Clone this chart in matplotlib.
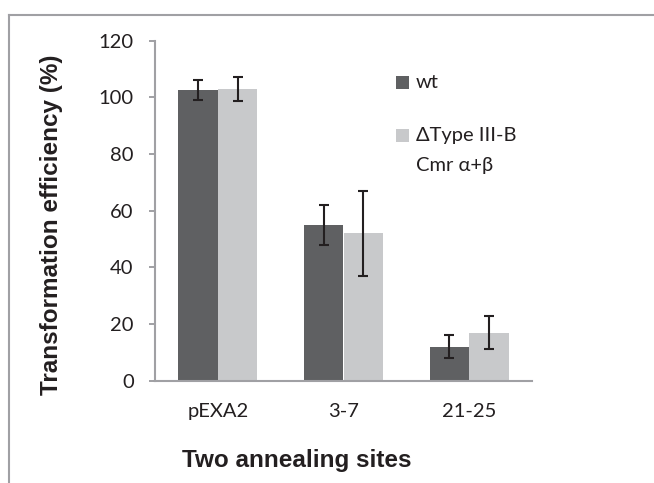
import matplotlib
matplotlib.use("Agg")
import matplotlib.pyplot as plt
import numpy as np
from matplotlib.lines import Line2D
from matplotlib.patches import Rectangle

categories = ["pEXA2", "3-7", "21-25"]
wt_values = [102.5, 55.0, 12.0]
wt_errors = [3.5, 7.1, 4.2]
mut_values = [103.0, 52.0, 16.9]
mut_errors = [4.2, 15.0, 5.8]
series_labels = ["wt", "\u0394Type III-B\nCmr \u03b1+\u03b2"]
yticks = [0, 20, 40, 60, 80, 100, 120]

DARK = "#5f6062"
LIGHT = "#c8c9cb"
AXC = "#a0a0a4"
TXT = "#231f20"
NUM_FONT = ["Lato", "Open Sans", "DejaVu Sans"]
BOLD_FONT = ["Liberation Sans", "DejaVu Sans"]

W, H = 654, 483
fig = plt.figure(figsize=(W / 100, H / 100), dpi=100)
ax = fig.add_axes([155 / W, 102.5 / H, 377 / W, 339.8 / H])

x = np.arange(len(categories))
bw = 0.315
err_kw = dict(ecolor=TXT, elinewidth=1.5, capsize=3.6, capthick=1.5)
ax.bar(x - bw / 2, wt_values, bw, color=DARK, yerr=wt_errors, error_kw=err_kw, zorder=2)
ax.bar(x + bw / 2, mut_values, bw, color=LIGHT, yerr=mut_errors, error_kw=err_kw, zorder=2)

ax.set_xlim(-0.5, len(categories) - 0.5)
ax.set_ylim(0, 120)
ax.set_yticks(yticks)
ax.set_yticklabels([str(v) for v in yticks], family=NUM_FONT, fontsize=14.5, color=TXT)
ax.set_xticks(x)
ax.set_xticklabels(categories, family=NUM_FONT, fontsize=14.5, color=TXT)
ax.tick_params(axis="y", length=4.3, width=1.4, color=AXC, pad=11)
ax.tick_params(axis="x", length=0, pad=16)
for s in ["top", "right"]:
    ax.spines[s].set_visible(False)
for s in ["left", "bottom"]:
    ax.spines[s].set_color(AXC)
    ax.spines[s].set_linewidth(1.5)

# axis titles
fig.text(52 / W, 1 - 225 / H, "Transformation efficiency (%)", rotation=90,
         ha="center", va="center", family=BOLD_FONT, fontweight="bold",
         fontsize=17.5, color=TXT)
fig.text(297 / W, 1 - 460 / H, "Two annealing sites", ha="center", va="center",
         family=BOLD_FONT, fontweight="bold", fontsize=17.5, color=TXT)

# legend drawn manually (handles aligned with first text line)
sq = 12.5
for (yc, col, lab) in [(82.5, DARK, series_labels[0]), (135.5, LIGHT, series_labels[1])]:
    fig.add_artist(Rectangle((396 / W, 1 - (yc + sq / 2) / H), sq / W, sq / H,
                             transform=fig.transFigure, color=col, lw=0))
    lines = lab.split("\n")
    for i, ln in enumerate(lines):
        fig.text(416 / W, 1 - (yc + 30 * i) / H, ln, ha="left", va="center",
                 family=NUM_FONT, fontsize=14.5, color=TXT)

# figure frame (top and left edges)
fig.add_artist(Line2D([9 / W, 1.0], [1 - 14.7 / H, 1 - 14.7 / H],
                      transform=fig.transFigure, color=AXC, lw=1.5))
fig.add_artist(Line2D([9 / W, 9 / W], [0.0, 1 - 14.7 / H],
                      transform=fig.transFigure, color=AXC, lw=1.5))

fig.savefig("out.png", dpi=100)
